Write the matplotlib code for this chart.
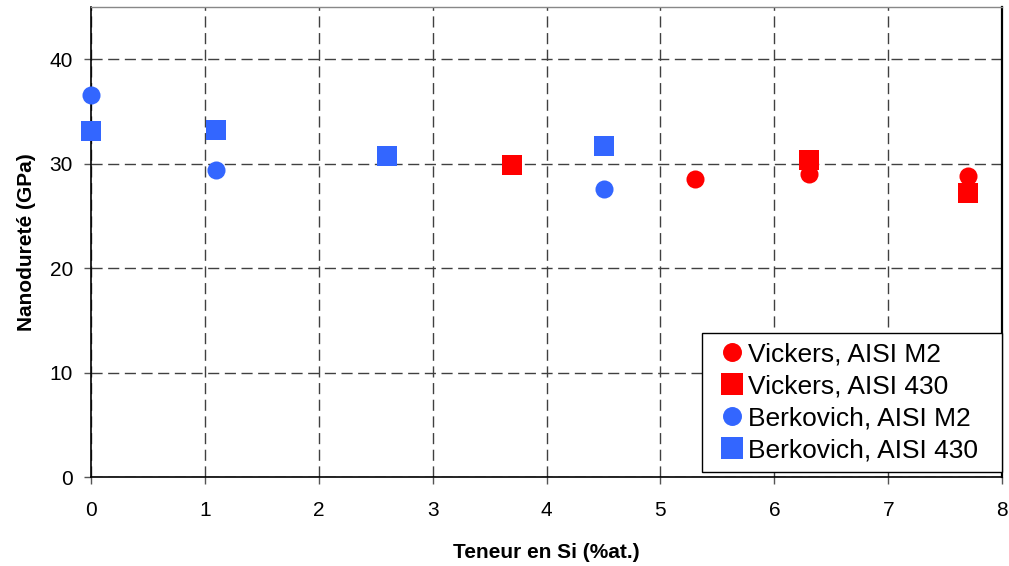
import matplotlib
matplotlib.use("Agg")
import matplotlib.pyplot as plt

plt.rcParams['font.family'] = ['Liberation Sans', 'DejaVu Sans']

# Teneur en Si (%at.) et nanodureté (GPa)
vickers_m2_x = [5.3, 6.3, 7.7]
vickers_m2_y = [28.5, 29.0, 28.8]
vickers_430_x = [3.7, 6.3, 7.7]
vickers_430_y = [29.9, 30.3, 27.2]
berko_m2_x = [0.0, 1.1, 4.5]
berko_m2_y = [36.6, 29.4, 27.6]
berko_430_x = [0.0, 1.1, 2.6, 4.5]
berko_430_y = [33.1, 33.2, 30.7, 31.7]

red = '#FF0000'
blue = '#3366FF'

fig = plt.figure(figsize=(10.09, 5.66), dpi=100)
ax = fig.add_axes([0.0902, 0.157, 0.903, 0.831])

kw = dict(linestyle='none', clip_on=False, zorder=3, markeredgewidth=0)
ax.plot(vickers_m2_x, vickers_m2_y, 'o', color=red, markersize=13, label='Vickers, AISI M2', **kw)
ax.plot(vickers_430_x, vickers_430_y, 's', color=red, markersize=14.5, label='Vickers, AISI 430', **kw)
ax.plot(berko_m2_x, berko_m2_y, 'o', color=blue, markersize=13, label='Berkovich, AISI M2', **kw)
ax.plot(berko_430_x, berko_430_y, 's', color=blue, markersize=14.5, label='Berkovich, AISI 430', **kw)

ax.set_xlim(0, 8)
ax.set_ylim(0, 45)
ax.set_xticks(range(0, 9))
ax.set_yticks(range(0, 41, 10))
ax.grid(True, color='#404040', linestyle=(0, (8, 4)), linewidth=1)
ax.set_axisbelow(True)
ax.tick_params(labelsize=15, direction='out', length=5, width=1, color='#555555')
ax.tick_params(axis='x', pad=12)
ax.tick_params(axis='y', pad=8)
for s in ax.spines.values():
    s.set_linewidth(1.2)
    s.set_color('black')
ax.spines['top'].set_color('#888888')
ax.spines['top'].set_linewidth(1)
ax.spines['right'].set_linewidth(1.6)

ax.set_xlabel('Teneur en Si (%at.)', fontsize=15, fontweight='bold', labelpad=17)
ax.set_ylabel('Nanodureté (GPa)', fontsize=15, fontweight='bold', labelpad=10)

leg = ax.legend(loc='lower left', bbox_to_anchor=(0.6707, 0.011, 0.3293, 0.3),
                mode='expand', fontsize=19,
                frameon=True, fancybox=False, edgecolor='black', framealpha=1,
                borderaxespad=0.0, handlelength=1.6, handletextpad=-0.2,
                labelspacing=0.31, borderpad=0.35, markerscale=1.05)
leg.get_frame().set_linewidth(1)

fig.savefig('out.png', dpi=100)
